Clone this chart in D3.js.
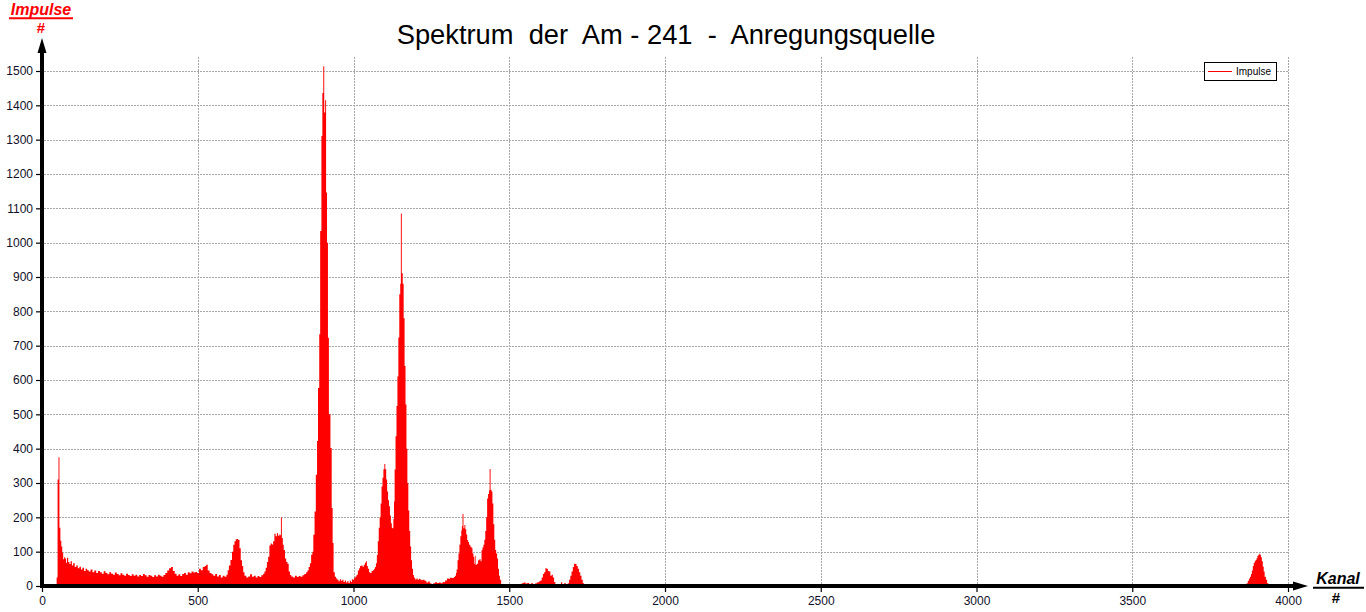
<!DOCTYPE html>
<html><head><meta charset="utf-8">
<script src="https://cdn.jsdelivr.net/npm/d3@7"></script>
<style>
html,body{margin:0;padding:0;background:#fff;}
svg{display:block;font-family:"Liberation Sans",Arial,sans-serif;}
</style></head>
<body>
<svg id="chart" width="1366" height="612"></svg>
<script>
// ---- data ----
const titleText = "Spektrum  der  Am - 241  -  Anregungsquelle";
const seriesName = "Impulse";
const yAxisTitle = "Impulse", yAxisUnit = "#";
const xAxisTitle = "Kanal", xAxisUnit = "#";
const xTicks = [0, 500, 1000, 1500, 2000, 2500, 3000, 3500, 4000];
const yTicks = [0, 100, 200, 300, 400, 500, 600, 700, 800, 900, 1000, 1100, 1200, 1300, 1400, 1500];

const kanal = [
  40,43,47,50,53,56,59,62,65,68,
  71,74,77,80,84,88,92,96,100,105,
  110,115,120,125,130,135,140,145,150,156,
  162,168,174,180,186,192,198,204,210,216,
  222,228,234,240,246,252,258,264,270,276,
  282,288,294,300,306,312,318,324,330,336,
  342,348,354,360,366,372,378,384,390,396,
  402,408,414,420,426,432,438,444,450,456,
  462,468,474,480,486,492,498,504,510,516,
  522,527,532,538,544,550,556,562,568,574,
  580,586,592,596,600,605,610,614,618,622,
  626,630,634,638,642,646,650,656,662,668,
  674,680,686,692,698,704,710,714,718,722,
  726,730,734,738,742,746,750,754,758,762,
  765,767,770,773,776,780,784,788,792,796,
  800,806,812,818,824,830,836,842,848,852,
  856,860,864,868,871,875,879,883,886,890,
  893,897,900,903,906,909,912,915,918,921,
  926,930,933,936,940,944,948,952,956,960,
  964,968,972,976,980,984,988,992,995,998,
  1002,1006,1010,1014,1018,1021,1025,1029,1033,1037,
  1040,1043,1046,1050,1054,1058,1062,1066,1069,1072,
  1075,1078,1081,1084,1087,1090,1093,1096,1099,1102,
  1105,1108,1111,1114,1117,1120,1123,1125,1128,1130,
  1132,1135,1138,1141,1144,1147,1150,1152,1155,1158,
  1161,1164,1167,1170,1173,1176,1179,1182,1185,1188,
  1191,1194,1198,1202,1206,1210,1214,1218,1222,1228,
  1234,1240,1245,1250,1256,1262,1268,1274,1280,1286,
  1290,1294,1300,1305,1310,1316,1322,1326,1329,1331,
  1334,1337,1340,1343,1346,1348,1350,1353,1356,1359,
  1362,1365,1368,1371,1375,1379,1382,1385,1388,1390,
  1392,1396,1400,1404,1408,1411,1414,1417,1420,1423,
  1426,1429,1432,1435,1437,1440,1443,1446,1449,1452,
  1455,1458,1461,1464,1467,1470,1474,1478,1484,1490,
  1494,1516,1522,1528,1534,1540,1546,1552,1558,1564,
  1570,1576,1582,1588,1592,1596,1600,1604,1608,1612,
  1616,1620,1624,1628,1632,1636,1640,1644,1648,1654,
  1660,1666,1670,1676,1682,1688,1692,1696,1700,1704,
  1708,1712,1716,1720,1724,1728,1732,1736,1740,1744,
  3855,3858,3862,3867,3871,3875,3878,3881,3884,3887,
  3890,3893,3896,3899,3902,3905,3908,3911,3913,3916,
  3919,3922,3925,3929,3933,3937,3941
];
const impulse = [
  0,6,25,310,375,170,132,115,97,78,
  84,80,68,82,70,64,72,60,66,55,
  60,52,56,48,53,44,50,46,42,48,
  40,45,38,44,40,36,43,38,34,40,
  36,33,39,35,31,37,33,30,36,32,
  29,34,30,33,28,32,29,35,31,27,
  32,30,26,31,28,33,30,27,32,38,
  45,52,55,44,36,30,34,29,35,38,
  33,40,37,42,39,41,38,50,46,55,
  58,62,45,38,34,30,35,28,32,25,
  30,27,33,46,60,76,100,120,130,136,
  137,134,110,75,58,40,30,25,28,34,
  27,30,25,29,26,31,36,42,53,70,
  85,118,124,121,130,152,145,154,146,150,
  148,200,140,120,105,80,70,65,42,32,
  28,25,30,26,29,27,31,35,40,45,
  55,66,91,100,149,217,324,422,577,733,
  1034,1311,1436,1514,1379,1415,1146,1000,723,500,
  402,227,125,40,27,22,18,14,20,15,
  18,12,16,10,14,9,15,12,20,18,
  24,28,33,45,52,58,60,56,62,68,
  72,58,50,40,38,44,46,50,55,66,
  90,130,170,200,240,290,315,340,355,340,
  310,275,250,232,205,183,170,168,195,246,
  339,436,524,610,724,850,880,1085,911,880,
  780,641,529,400,300,220,160,115,75,50,
  32,24,19,22,18,21,19,17,18,15,
  10,13,8,6,8,11,9,10,8,12,
  11,16,22,21,24,23,26,30,38,48,
  75,95,120,145,162,175,210,168,178,165,
  150,134,128,120,114,110,95,85,65,88,
  62,65,75,78,72,104,112,120,135,160,
  200,255,268,278,341,280,275,240,180,135,
  105,95,80,50,30,18,6,3,4,2,
  0,4,3,0,6,8,10,7,9,6,
  8,5,7,10,11,14,16,25,35,40,
  52,50,44,42,30,33,25,12,6,4,
  5,11,6,8,4,8,18,30,42,55,
  65,64,58,50,40,30,18,8,3,0,
  0,3,5,8,15,22,27,35,45,58,
  67,72,76,81,88,91,94,90,84,72,
  57,42,27,18,8,3,0
];

// ---- drawing ----
const svg = d3.select("#chart");
const red = "#ff0000";
const x = d3.scaleLinear().domain([0, 4000]).range([42, 1288]);
const y = d3.scaleLinear().domain([0, 1500]).range([586, 71]);
const plotTop = 57;

// grid
const grid = svg.append("g").attr("stroke", "#a8a8a8").attr("stroke-width", 1)
  .attr("stroke-dasharray", "2,1").attr("shape-rendering", "crispEdges");
grid.selectAll("line.h").data(yTicks.filter(d => d > 0)).join("line")
  .attr("x1", 44).attr("x2", x(4000))
  .attr("y1", d => Math.round(y(d)) + 0.5).attr("y2", d => Math.round(y(d)) + 0.5);
grid.selectAll("line.v").data(xTicks.filter(d => d > 0)).join("line")
  .attr("y1", plotTop).attr("y2", y(0))
  .attr("x1", d => Math.round(x(d)) + 0.5).attr("x2", d => Math.round(x(d)) + 0.5);

// spectrum
const data = kanal.map((k, i) => [k, impulse[i]]);
const area = d3.area().x(d => x(d[0])).y0(y(0)).y1(d => y(d[1])).curve(d3.curveStepAfter);
svg.append("path").datum(data).attr("d", area).attr("fill", red);

// axes (ticks + labels)
const labelColor = "#10102a";
const yAx = svg.append("g").attr("transform", "translate(42,0)")
  .call(d3.axisLeft(y).tickValues(yTicks).tickSize(6).tickPadding(3).tickFormat(d3.format("d")));
const xAx = svg.append("g").attr("transform", "translate(0,586)")
  .call(d3.axisBottom(x).tickValues(xTicks).tickSize(6).tickPadding(4).tickFormat(d3.format("d")));
[yAx, xAx].forEach(g => {
  g.select(".domain").remove();
  g.selectAll("line").attr("stroke", "#000").attr("stroke-width", 1.2);
  g.selectAll("text").attr("fill", labelColor).attr("font-size", 12)
    .attr("font-family", "\"Liberation Sans\",Arial,sans-serif");
});

// thick axis lines with arrows
svg.append("line").attr("x1", 42).attr("x2", 42).attr("y1", 588).attr("y2", 50)
  .attr("stroke", "#000").attr("stroke-width", 4);
svg.append("path").attr("d", "M37.5,53 L46.5,53 L42,38 Z").attr("fill", "#000");
svg.append("line").attr("x1", 40).attr("x2", 1296).attr("y1", 586).attr("y2", 586)
  .attr("stroke", "#000").attr("stroke-width", 4);
svg.append("path").attr("d", "M1293,581.5 L1293,590.5 L1308,586 Z").attr("fill", "#000");

// title
svg.append("text").attr("x", 666).attr("y", 44).attr("text-anchor", "middle")
  .attr("font-size", 27.3).attr("fill", "#000").style("white-space", "pre").text(titleText);

// y axis title
svg.append("text").attr("x", 41).attr("y", 15).attr("text-anchor", "middle")
  .attr("font-size", 16).attr("font-weight", "bold").attr("font-style", "italic")
  .attr("fill", red).text(yAxisTitle);
svg.append("line").attr("x1", 9).attr("x2", 73).attr("y1", 18.3).attr("y2", 18.3)
  .attr("stroke", red).attr("stroke-width", 2);
svg.append("text").attr("x", 41).attr("y", 33).attr("text-anchor", "middle")
  .attr("font-size", 15).attr("font-weight", "bold").attr("fill", red).text(yAxisUnit);

// x axis title
svg.append("text").attr("x", 1338).attr("y", 583.5).attr("text-anchor", "middle")
  .attr("font-size", 16).attr("font-weight", "bold").attr("font-style", "italic")
  .attr("fill", "#000").text(xAxisTitle);
svg.append("line").attr("x1", 1313).attr("x2", 1364).attr("y1", 587.7).attr("y2", 587.7)
  .attr("stroke", "#000").attr("stroke-width", 2);
svg.append("text").attr("x", 1336).attr("y", 603).attr("text-anchor", "middle")
  .attr("font-size", 15).attr("font-weight", "bold").attr("fill", "#000").text(xAxisUnit);

// legend
const lg = svg.append("g");
lg.append("rect").attr("x", 1204.5).attr("y", 62.5).attr("width", 72).attr("height", 18)
  .attr("fill", "#fff").attr("stroke", "#000").attr("stroke-width", 1);
lg.append("line").attr("x1", 1208).attr("x2", 1232).attr("y1", 71.5).attr("y2", 71.5)
  .attr("stroke", red).attr("stroke-width", 1);
lg.append("text").attr("x", 1236).attr("y", 75).attr("font-size", 10).attr("fill", "#000")
  .text(seriesName);
</script>
</body></html>
